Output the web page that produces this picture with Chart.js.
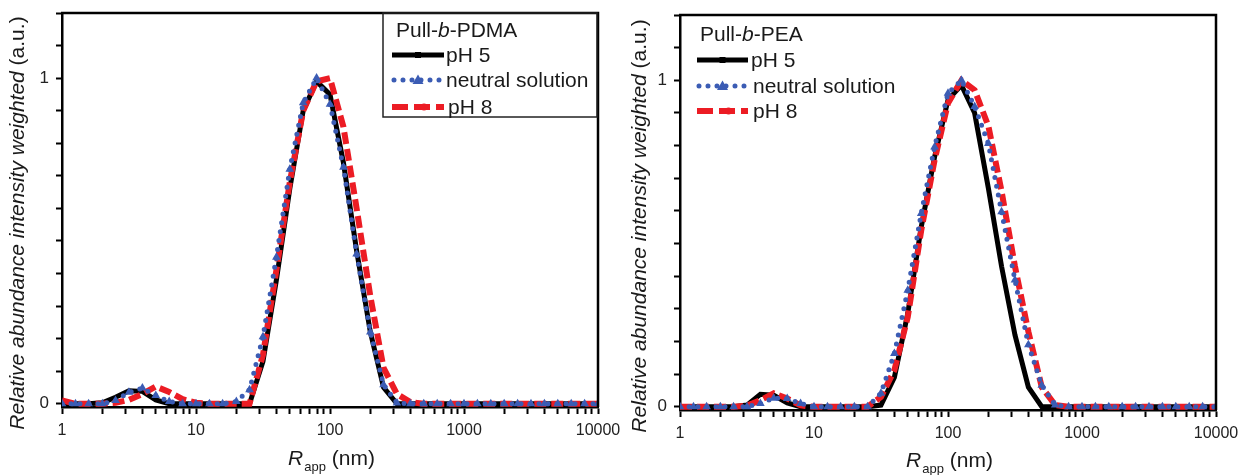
<!DOCTYPE html>
<html>
<head>
<meta charset="utf-8">
<script src="https://cdn.jsdelivr.net/npm/chart.js@4.4.1/dist/chart.umd.min.js"></script>
<style>
  html, body { margin: 0; padding: 0; background: #fff; }
  #wrap { position: relative; width: 1243px; height: 475px; }
  .panel { position: absolute; top: 0; height: 475px; }
  #left { left: 0; width: 620px; }
  #right { left: 620px; width: 623px; }
</style>
</head>
<body>
<div id="wrap">
  <div class="panel" id="left"><canvas id="chart-left" width="620" height="475"></canvas></div>
  <div class="panel" id="right"><canvas id="chart-right" width="623" height="475"></canvas></div>
</div>
<script>
// apparent radius R_app (nm), 10 points per decade
const radius = [1, 1.26, 1.58, 2, 2.51, 3.16, 3.98, 5.01, 6.31, 7.94,
  10, 12.6, 15.8, 20, 25.1, 31.6, 39.8, 50.1, 63.1, 79.4,
  100, 126, 158, 200, 251, 316, 398, 501, 631, 794,
  1000, 1259, 1585, 1995, 2512, 3162, 3981, 5012, 6310, 7943, 10000];

// Pull-b-PDMA
const pdmaPH5 = [0, 0, 0, 0.003, 0.02, 0.04, 0.038, 0.012, 0, 0,
  0, 0, 0, 0, 0, 0.13, 0.38, 0.66, 0.9, 0.99,
  0.95, 0.74, 0.47, 0.22, 0.05, 0, 0, 0, 0, 0,
  0, 0, 0, 0, 0, 0, 0, 0, 0, 0, 0];
const pdmaNeutral = [0, 0, 0, 0, 0.01, 0.035, 0.048, 0.025, 0.007, 0,
  0, 0, 0, 0.007, 0.043, 0.206, 0.45, 0.72, 0.924, 1.0,
  0.92, 0.726, 0.46, 0.22, 0.058, 0.002, 0, 0, 0, 0,
  0, 0, 0, 0, 0, 0, 0, 0, 0, 0, 0];
const pdmaPH8 = [0.01, 0, 0, 0, 0.003, 0.012, 0.03, 0.053, 0.036, 0.014,
  0.003, 0, 0, 0, 0, 0.15, 0.41, 0.68, 0.9, 0.99,
  1.0, 0.85, 0.6, 0.33, 0.11, 0.03, 0.005, 0, 0, 0,
  0, 0, 0, 0, 0, 0, 0, 0, 0, 0, 0];

// Pull-b-PEA
const peaPH5 = [0, 0, 0, 0, 0, 0.005, 0.038, 0.035, 0.012, 0,
  0, 0, 0, 0, 0, 0.005, 0.09, 0.286, 0.55, 0.765,
  0.94, 0.985, 0.9, 0.67, 0.43, 0.22, 0.06, 0, 0, 0,
  0, 0, 0, 0, 0, 0, 0, 0, 0, 0, 0];
const peaNeutral = [0, 0, 0, 0, 0, 0, 0.01, 0.026, 0.025, 0.01,
  0, 0, 0, 0, 0, 0.041, 0.163, 0.357, 0.592, 0.796,
  0.96, 1.0, 0.92, 0.806, 0.597, 0.388, 0.19, 0.066, 0.005, 0,
  0, 0, 0, 0, 0, 0, 0, 0, 0, 0, 0];
const peaPH8 = [0, 0, 0, 0, 0, 0.003, 0.02, 0.041, 0.025, 0.004,
  0, 0, 0, 0, 0, 0.03, 0.112, 0.275, 0.54, 0.755,
  0.93, 1.0, 0.97, 0.86, 0.66, 0.43, 0.23, 0.06, 0.005, 0,
  0, 0, 0, 0, 0, 0, 0, 0, 0, 0, 0];

const seriesNames = ['pH 5', 'neutral solution', 'pH 8'];
const xTickLabels = [1, 10, 100, 1000, 10000];
const yTicks = [0, 0.1, 0.2, 0.3, 0.4, 0.5, 0.6, 0.7, 0.8, 0.9, 1.0, 1.1, 1.2];
const yTickLabels = [0, 1];

const FONT = "'Liberation Sans', Arial, sans-serif";
const BLACK = '#000000';
const BLUE = '#3b5cb4';
const RED = '#ec1c24';

function points(vals) {
  return radius.map((r, k) => ({ x: r, y: vals[k] }));
}

/* ================= DECOR: frame, axis titles, legend ================= */
function decor(cfg) {
  return {
    id: 'decor',
    afterDraw(chart) {
      const ctx = chart.ctx;
      const a = chart.chartArea;
      ctx.save();

      // top + right frame
      ctx.strokeStyle = '#000';
      ctx.lineWidth = 2.5;
      ctx.beginPath();
      ctx.moveTo(a.left - 1, a.top);
      ctx.lineTo(a.right, a.top);
      ctx.lineTo(a.right, a.bottom);
      ctx.stroke();

      ctx.fillStyle = '#1a1a1a';
      ctx.textBaseline = 'middle';

      // y title (rotated, italic + normal)
      ctx.save();
      ctx.translate(cfg.yTitle[0], cfg.yTitle[1]);
      ctx.rotate(-Math.PI / 2);
      const itPart = 'Relative abundance intensity weighted';
      const nPart = ' (a.u.)';
      ctx.font = `italic 21px ${FONT}`;
      const w1 = ctx.measureText(itPart).width;
      ctx.font = `21px ${FONT}`;
      const w2 = ctx.measureText(nPart).width;
      let x0 = -(w1 + w2) / 2;
      ctx.textAlign = 'left';
      ctx.font = `italic 21px ${FONT}`;
      ctx.fillText(itPart, x0, 0);
      ctx.font = `21px ${FONT}`;
      ctx.fillText(nPart, x0 + w1, 0);
      ctx.restore();

      // x title: R_app (nm)
      ctx.font = `italic 21px ${FONT}`;
      const wr = ctx.measureText('R').width;
      ctx.font = `13px ${FONT}`;
      const ws = ctx.measureText('app').width;
      ctx.font = `21px ${FONT}`;
      const wn = ctx.measureText(' (nm)').width;
      let xs = cfg.xTitle[0] - (wr + ws + wn) / 2;
      const yb = cfg.xTitle[1];
      ctx.textAlign = 'left';
      ctx.font = `italic 21px ${FONT}`;
      ctx.fillText('R', xs, yb);
      ctx.font = `13px ${FONT}`;
      ctx.fillText('app', xs + wr + 1, yb + 8);
      ctx.font = `21px ${FONT}`;
      ctx.fillText(' (nm)', xs + wr + ws + 1, yb);

      // legend
      const L = cfg.legend;
      if (L.box) {
        ctx.strokeStyle = '#222';
        ctx.lineWidth = 1.5;
        ctx.strokeRect(L.box[0], L.box[1], L.box[2] - L.box[0], L.box[3] - L.box[1]);
      }
      ctx.fillStyle = '#1a1a1a';
      const parts = [['Pull-', ''], ['b', 'italic '], ['-' + L.polymer, '']];
      let tx = L.title[0];
      parts.forEach(([t, st]) => {
        ctx.font = `${st}21px ${FONT}`;
        ctx.fillText(t, tx, L.title[1]);
        tx += ctx.measureText(t).width;
      });

      const [s0, s1] = L.sample;
      const mid = (s0 + s1) / 2;
      // pH 5
      let y = L.rows[0];
      ctx.setLineDash([]);
      ctx.strokeStyle = BLACK; ctx.lineWidth = 5; ctx.lineCap = 'butt';
      ctx.beginPath(); ctx.moveTo(s0, y); ctx.lineTo(s1, y); ctx.stroke();
      ctx.fillStyle = BLACK; ctx.fillRect(mid - 3, y - 3, 6, 6);
      // neutral
      y = L.rows[1];
      ctx.strokeStyle = BLUE; ctx.lineWidth = 5; ctx.lineCap = 'round';
      ctx.setLineDash([0, 9]);
      ctx.beginPath(); ctx.moveTo(s0 + 2, y); ctx.lineTo(s1, y); ctx.stroke();
      ctx.setLineDash([]);
      ctx.fillStyle = BLUE;
      ctx.beginPath(); ctx.moveTo(mid, y - 5.5); ctx.lineTo(mid + 5.5, y + 4); ctx.lineTo(mid - 5.5, y + 4); ctx.closePath(); ctx.fill();
      // pH 8
      y = L.rows[2];
      ctx.strokeStyle = RED; ctx.lineWidth = 6; ctx.lineCap = 'butt';
      ctx.setLineDash([16, 6]);
      ctx.beginPath(); ctx.moveTo(s0, y); ctx.lineTo(s1, y); ctx.stroke();
      ctx.setLineDash([]);
      ctx.fillStyle = RED;
      ctx.beginPath(); ctx.arc(mid + 6, y, 3.5, 0, Math.PI * 2); ctx.fill();

      ctx.fillStyle = '#1a1a1a';
      ctx.font = `21px ${FONT}`;
      seriesNames.forEach((n, k) => {
        ctx.fillText(n, L.text[k], L.rows[k] + 1);
      });

      ctx.restore();
    }
  };
}

function isDecade(v) {
  return xTickLabels.some(t => Math.abs(t - v) < 1e-6 * t);
}

function makeChart(id, sets, cfg) {
  return new Chart(document.getElementById(id), {
    type: 'line',
    data: {
      datasets: [
        {
          label: seriesNames[1], data: points(sets[1]),
          borderColor: BLUE, backgroundColor: BLUE,
          borderWidth: 5, borderDash: [0, 9], borderCapStyle: 'round',
          pointStyle: 'triangle', pointRadius: 5, pointBorderWidth: 0,
          order: 0
        },
        {
          label: seriesNames[2], data: points(sets[2]),
          borderColor: RED, backgroundColor: RED,
          borderWidth: 6, borderDash: [12, 5],
          pointRadius: 0, order: 1
        },
        {
          label: seriesNames[0], data: points(sets[0]),
          borderColor: BLACK, backgroundColor: BLACK,
          borderWidth: 5, pointRadius: 0, order: 2
        }
      ]
    },
    options: {
      responsive: false,
      animation: false,
      layout: { padding: cfg.padding },
      plugins: { legend: { display: false }, tooltip: { enabled: false } },
      scales: {
        x: {
          type: 'logarithmic', min: 1, max: 10000,
          border: { display: true, color: '#000', width: 2.5 },
          grid: { drawOnChartArea: false, drawTicks: true, tickLength: 7, tickColor: '#000', tickWidth: 2 },
          ticks: {
            autoSkip: false, maxRotation: 0, padding: 7, color: '#222',
            font: { family: FONT, size: 16 },
            callback: v => isDecade(v) ? String(Math.round(v)) : ''
          },
          afterBuildTicks: s => {
            s.ticks = s.ticks.filter(t => {
              const sig = t.value / Math.pow(10, Math.floor(Math.log10(t.value) + 1e-9));
              return Math.abs(sig - Math.round(sig)) < 1e-6;
            });
          },
          afterFit: s => {
            s.height = cfg.xHeight;
            s.paddingLeft = 0;
            s.paddingRight = 0;
          }
        },
        y: {
          min: -0.01, max: 1.2,
          border: { display: true, color: '#000', width: 2.5 },
          grid: { drawOnChartArea: false, drawTicks: true, tickLength: 6, tickColor: '#000', tickWidth: 2 },
          afterBuildTicks: s => { s.ticks = yTicks.map(v => ({ value: v })); },
          ticks: {
            padding: 7, color: '#222',
            font: { family: FONT, size: 17 },
            callback: v => yTickLabels.some(t => Math.abs(t - v) < 1e-6) ? String(Math.round(v)) : ''
          },
          afterFit: s => {
            s.width = cfg.yWidth;
            s.paddingTop = 0;
            s.paddingBottom = 0;
          }
        }
      }
    },
    plugins: [decor(cfg)]
  });
}

makeChart('chart-left', [pdmaPH5, pdmaNeutral, pdmaPH8], {
  padding: { top: 13, right: 22, left: 0, bottom: 0 },
  yWidth: 62, xHeight: 68,
  yTitle: [18, 223], xTitle: [331, 459],
  legend: {
    polymer: 'PDMA', box: [383, 13, 597, 117],
    title: [396, 31], rows: [55, 80, 107],
    sample: [392, 444], text: [446, 446, 448]
  }
});

makeChart('chart-right', [peaPH5, peaNeutral, peaPH8], {
  padding: { top: 15, right: 27, left: 0, bottom: 0 },
  yWidth: 60, xHeight: 65,
  yTitle: [20, 226], xTitle: [329, 461],
  legend: {
    polymer: 'PEA', box: null,
    title: [80, 35], rows: [60, 86, 111],
    sample: [77, 128], text: [131, 133, 133]
  }
});
</script>
</body>
</html>
